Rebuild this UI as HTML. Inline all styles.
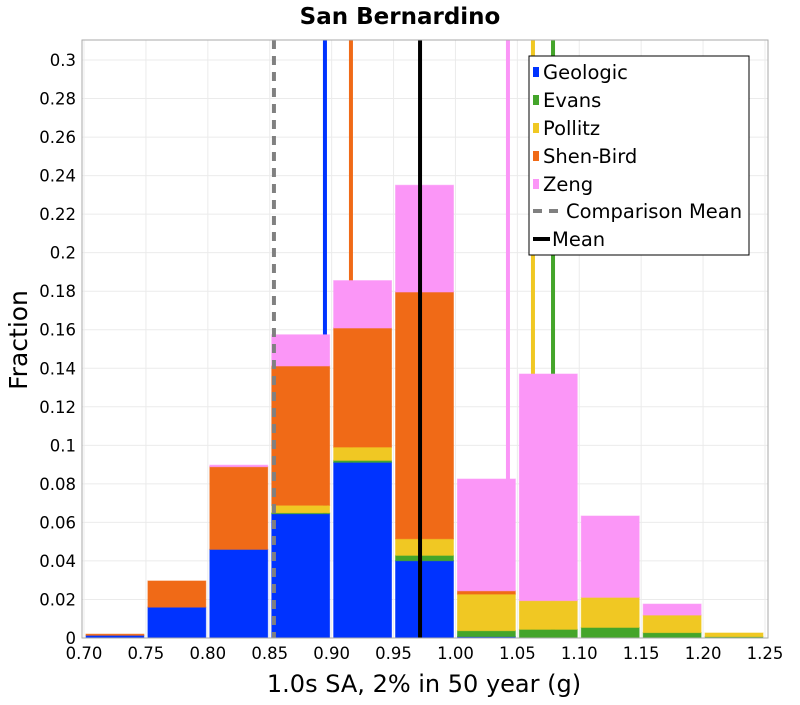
<!DOCTYPE html>
<html><head><meta charset="utf-8"><style>
body{margin:0;background:#fff;font-family:"Liberation Sans","DejaVu Sans",sans-serif}
svg text{font-family:"DejaVu Sans","Liberation Sans",sans-serif}
</style></head><body>
<svg id="chart" width="800" height="700" xmlns="http://www.w3.org/2000/svg">
<text x="400" y="24" text-anchor="middle" font-size="23" font-weight="bold">San Bernardino</text>
<g id="grid"></g><g id="vlines"></g><g id="bars"></g><g id="means"></g><g id="axes"></g><g id="legend"></g>
</svg>
<script>
const binStarts=[0.70,0.75,0.80,0.85,0.90,0.95,1.00,1.05,1.10,1.15,1.20];
const geologic=[0.0014,0.016,0.046,0.0645,0.0912,0.0401,0.0007,0,0,0,0];
const evans=[0,0,0,0.0005,0.001,0.0028,0.0031,0.0045,0.0055,0.0028,0.0007];
const pollitz=[0,0,0,0.0039,0.0069,0.0086,0.019,0.0149,0.0156,0.0091,0.0019];
const shenBird=[0.0006,0.0136,0.0429,0.0723,0.0618,0.1281,0.0017,0,0,0,0];
const zeng=[0,0,0.0008,0.0162,0.0246,0.0554,0.058,0.1176,0.0422,0.0057,0];
const seriesMeans=[0.8946,1.0788,1.0626,0.9156,1.0424];
const comparisonMean=0.8534;
const overallMean=0.9714;
const xTicks=[0.70,0.75,0.80,0.85,0.90,0.95,1.00,1.05,1.10,1.15,1.20,1.25];
const yTicks=[0,0.02,0.04,0.06,0.08,0.1,0.12,0.14,0.16,0.18,0.2,0.22,0.24,0.26,0.28,0.3];
const seriesNames=["Geologic","Evans","Pollitz","Shen-Bird","Zeng"];
const colors=["#0033ff","#44a52a","#f0c823","#f06a17","#fb96f7"];

const L=82,R=768,T=40,B=638;
const x=v=>84+(v-0.70)*(681/0.55);
const y=v=>B-v*(578/0.3);
const NS="http://www.w3.org/2000/svg";
function mk(tag,attrs,parent){const e=document.createElementNS(NS,tag);for(const k in attrs)e.setAttribute(k,attrs[k]);parent.appendChild(e);return e;}
const grid=document.getElementById('grid'),bars=document.getElementById('bars'),axes=document.getElementById('axes'),vl=document.getElementById('vlines'),means=document.getElementById('means'),leg=document.getElementById('legend');

xTicks.forEach(t=>{
 const l=mk('line',{x1:x(t),x2:x(t),y1:T,y2:B,stroke:'#ebebeb'},grid);
 
 
 const tx=mk('text',{x:x(t),y:B+21,'text-anchor':'middle','font-size':16.5},axes);tx.textContent=t.toFixed(2);
 
 
});
yTicks.forEach(t=>{
 const l=mk('line',{x1:L,x2:R,y1:y(t),y2:y(t),stroke:'#ebebeb'},grid);
 
 
 const tx=mk('text',{x:L-6,y:y(t)+6,'text-anchor':'end','font-size':16.5},axes);tx.textContent=String(+t.toFixed(2));
 
 
});
seriesMeans.forEach((m,i)=>{
 const l=mk('line',{x1:x(m),x2:x(m),y1:T,y2:B,stroke:colors[i],'stroke-width':4},vl);
 
 
});
const all=[geologic,evans,pollitz,shenBird,zeng];
binStarts.forEach((b,i)=>{
 let cum=0;
 all.forEach((s,j)=>{
  const v=s[i]; if(v<=0){return;}
  const r=mk('rect',{x:x(b)+2,width:x(b+0.05)-x(b)-4,y:y(cum+v),height:y(cum)-y(cum+v),fill:colors[j],stroke:colors[j],'stroke-opacity':0.6,'stroke-width':1},bars);
  
  
  cum+=v;
 });
});
const cm=mk('line',{x1:x(comparisonMean),x2:x(comparisonMean),y1:T,y2:B,stroke:'#808080','stroke-width':4,'stroke-dasharray':'9,7'},means);


const mm=mk('line',{x1:x(overallMean),x2:x(overallMean),y1:T,y2:B,stroke:'#000','stroke-width':4},means);


const fr=mk('rect',{x:L,y:T,width:R-L,height:B-T,fill:'none',stroke:'#aaa'},axes);


const xl=mk('text',{x:424,y:692,'text-anchor':'middle','font-size':24},axes);xl.textContent='1.0s SA, 2% in 50 year (g)';


const yl=mk('text',{x:0,y:0,'text-anchor':'middle','font-size':25,transform:'translate(27,340) rotate(-90)'},axes);yl.textContent='Fraction';


const lb=mk('rect',{x:529,y:56,width:220,height:199,fill:'#fff',stroke:'#000'},leg);


seriesNames.forEach((n,i)=>{
 const yy=72+i*28;
 const s=mk('rect',{x:533,y:yy-5,width:6,height:10,fill:colors[i]},leg);
 
 
 const t=mk('text',{x:543,y:yy+7,'font-size':19.5},leg);t.textContent=n;
 
 
});
const d1=mk('line',{x1:533,x2:564,y1:211,y2:211,stroke:'#808080','stroke-width':4,'stroke-dasharray':'9,7'},leg);


const t1=mk('text',{x:566,y:218,'font-size':19.5},leg);t1.textContent='Comparison Mean';


const d2=mk('line',{x1:533,x2:550,y1:239,y2:239,stroke:'#000','stroke-width':4},leg);


const t2=mk('text',{x:552,y:246,'font-size':19.5},leg);t2.textContent='Mean';


</script>
</body></html>
